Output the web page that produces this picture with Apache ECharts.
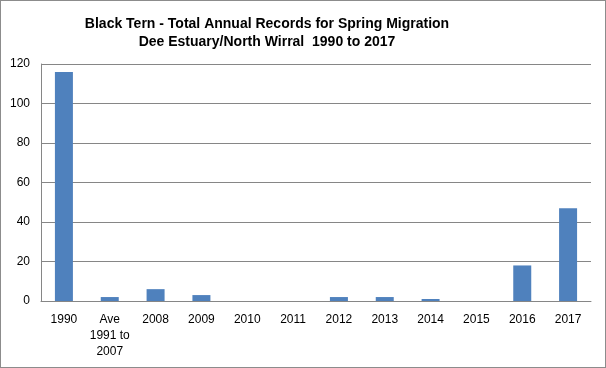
<!DOCTYPE html>
<html><head><meta charset="utf-8">
<script src="https://cdn.jsdelivr.net/npm/echarts@6/dist/echarts.min.js"></script>
<style>html,body{margin:0;padding:0;background:#fff}#c{width:606px;height:368px;box-sizing:border-box;border:1px solid #8c8c8c}</style>
</head><body><div id="c"></div>
<script>
const categories = ['1990', 'Ave\n1991 to\n2007', '2008', '2009', '2010', '2011', '2012', '2013', '2014', '2015', '2016', '2017'];
const records = [116, 2, 6, 3, 0, 0, 2, 2, 1, 0, 18, 47];
const yTicks = [0, 20, 40, 60, 80, 100, 120];
const titleLines = ['Black Tern - Total Annual Records for Spring Migration', 'Dee Estuary/North Wirral  1990 to 2017'];

const chart = echarts.init(document.getElementById('c'), null, {renderer: 'canvas'});
chart.setOption({
  animation: false,
  title: {
    text: titleLines.join('\n'),
    left: 261, top: 9, textAlign: 'center',
    textStyle: {fontFamily: 'Liberation Sans', fontSize: 14, fontWeight: 'bold', color: '#000', lineHeight: 18}
  },
  grid: {left: 40, right: 14, top: 63, bottom: 66, containLabel: false},
  xAxis: {
    type: 'category', data: categories,
    axisLine: {lineStyle: {color: '#868686'}},
    axisTick: {show: false},
    axisLabel: {interval: 0, color: '#000', fontFamily: 'Liberation Sans', fontSize: 12, lineHeight: 16, margin: 11}
  },
  yAxis: {
    type: 'value', min: yTicks[0], max: yTicks[yTicks.length - 1], interval: 20,
    axisLine: {show: true, lineStyle: {color: '#868686'}},
    axisTick: {show: false},
    splitLine: {lineStyle: {color: '#868686'}},
    axisLabel: {color: '#000', fontFamily: 'Liberation Sans', fontSize: 12, margin: 11}
  },
  series: [{
    type: 'bar', data: records, barWidth: 18,
    itemStyle: {color: '#4F81BD'}
  }]
});
</script></body></html>
